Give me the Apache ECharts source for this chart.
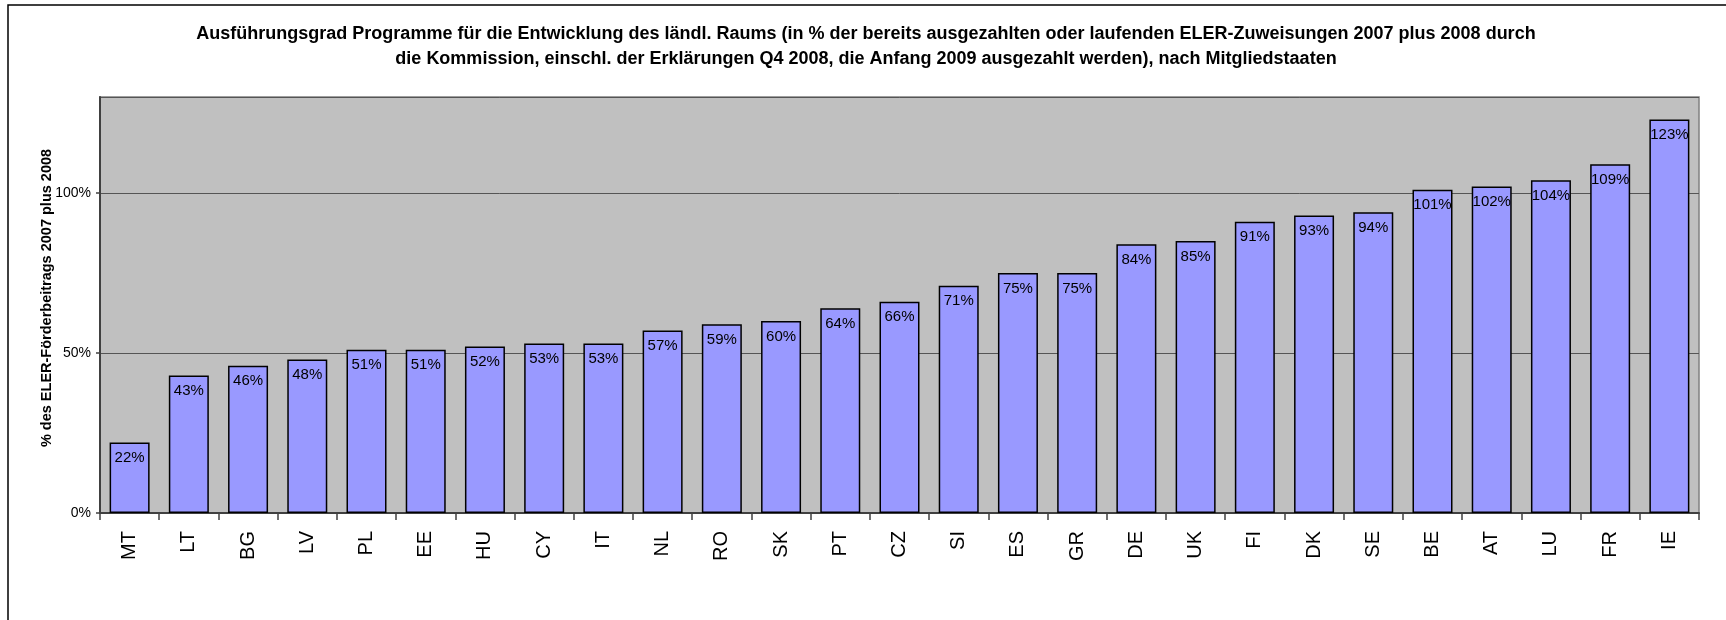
<!DOCTYPE html>
<html>
<head>
<meta charset="utf-8">
<script src="https://cdn.jsdelivr.net/npm/echarts@6/dist/echarts.min.js"></script>
<style>
  html, body { margin: 0; padding: 0; background: #fff; }
  #chart { width: 1726px; height: 620px; }
</style>
</head>
<body>
<div id="chart"></div>
<script>
const countries = ['MT', 'LT', 'BG', 'LV', 'PL', 'EE', 'HU', 'CY', 'IT', 'NL', 'RO', 'SK', 'PT', 'CZ',
  'SI', 'ES', 'GR', 'DE', 'UK', 'FI', 'DK', 'SE', 'BE', 'AT', 'LU', 'FR', 'IE'];
const execRate = [22, 43, 46, 48, 51, 51, 52, 53, 53, 57, 59, 60, 64, 66,
  71, 75, 75, 84, 85, 91, 93, 94, 101, 102, 104, 109, 123];

const titleText = 'Ausführungsgrad Programme für die Entwicklung des ländl. Raums (in % der bereits ausgezahlten oder laufenden ELER-Zuweisungen 2007 plus 2008 durch\n'
  + 'die Kommission, einschl. der Erklärungen Q4 2008, die Anfang 2009 ausgezahlt werden), nach Mitgliedstaaten';
const yName = '% des ELER-Förderbeitrags 2007 plus 2008';

const font = '"Liberation Sans", Arial, sans-serif';
const chart = echarts.init(document.getElementById('chart'));

chart.setOption({
  animation: false,
  textStyle: { fontFamily: font },
  graphic: [{
    type: 'rect',
    shape: { x: 8, y: 5, width: 1800, height: 700 },
    style: { fill: 'none', stroke: '#000', lineWidth: 1.5 },
    silent: true,
    z: -1
  }, {
    // title, two centred lines
    type: 'text',
    x: 866,
    y: 22,
    style: {
      text: titleText,
      textAlign: 'center',
      fontFamily: font,
      fontSize: 18,
      fontWeight: 'bold',
      lineHeight: 25,
      fill: '#000'
    },
    silent: true
  }],
  grid: {
    left: 100, top: 97, right: 27, bottom: 107,
    show: true,
    backgroundColor: '#C0C0C0',
    borderColor: '#808080',
    borderWidth: 1.5
  },
  xAxis: {
    type: 'category',
    data: countries,
    axisLine: { lineStyle: { color: '#404040', width: 2 } },
    axisTick: { show: true, length: 7, lineStyle: { color: '#404040', width: 1.5 } },
    axisLabel: { rotate: 90, fontSize: 20, color: '#000', margin: 18, fontFamily: font }
  },
  yAxis: {
    type: 'value',
    min: 0,
    max: 130,
    interval: 50,
    name: yName,
    nameLocation: 'middle',
    nameGap: 46,
    nameRotate: 90,
    nameMoveOverlap: false,
    nameTextStyle: { fontSize: 14.5, fontWeight: 'bold', color: '#000', fontFamily: font, padding: [0, 0, 0, 14] },
    axisLine: { show: true, lineStyle: { color: '#404040', width: 2 } },
    axisTick: { show: true, length: 4, lineStyle: { color: '#404040', width: 1.5 } },
    axisLabel: {
      fontSize: 14, color: '#000', margin: 9, showMaxLabel: false,
      formatter: v => v + '%'
    },
    splitLine: { show: true, lineStyle: { color: '#555', width: 1 } }
  },
  series: [{
    type: 'bar',
    data: execRate,
    barWidth: 40,
    itemStyle: { color: '#9999FF', borderColor: '#000', borderWidth: 1.5 },
    label: {
      show: true,
      position: 'insideTop',
      distance: 8,
      fontSize: 15,
      color: '#000',
      fontFamily: font,
      formatter: p => p.value + '%'
    }
  }]
});
</script>
</body>
</html>
